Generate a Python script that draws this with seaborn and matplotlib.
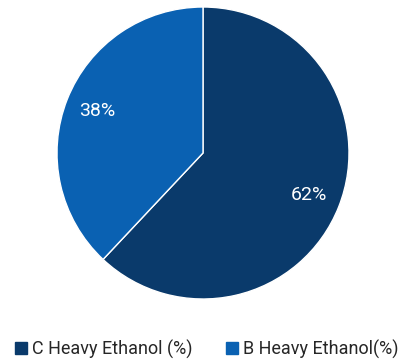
import matplotlib
matplotlib.use("Agg")
import matplotlib.pyplot as plt
import seaborn as sns
from matplotlib.lines import Line2D

sns.set_style("white")
plt.rcParams['font.family'] = ['Roboto', 'DejaVu Sans']

categories = ["C Heavy Ethanol (%)", "B Heavy Ethanol(%)"]
shares = [62, 38]
colors = ["#0a3a6b", "#0a61b2"]

fig = plt.figure(figsize=(4.04, 3.6), dpi=100)
W, H = 404, 360
cx, cy, r = 203, 153, 146
ax = fig.add_axes([(cx - r) / W, (H - cy - r) / H, 2 * r / W, 2 * r / H])

wedges, texts, autotexts = ax.pie(
    shares, colors=colors, startangle=90, counterclock=False,
    autopct=lambda p: f"{p:.0f}%", pctdistance=0.78,
    wedgeprops=dict(edgecolor="white", linewidth=1.0),
    textprops=dict(color="white", fontsize=14),
)
ax.set_xlim(-1, 1)
ax.set_ylim(-1, 1)
ax.set_aspect("equal")
ax.axis("off")

handles = [Line2D([0], [0], marker="s", linestyle="none", markersize=8.6,
                  markerfacecolor=c, markeredgecolor=c) for c in colors]
fig.legend(handles, categories, loc="center left",
           bbox_to_anchor=(14 / W, 1 - 349 / H),
           ncol=2, frameon=False, fontsize=13, handlelength=0.8,
           handletextpad=0.2, columnspacing=1.8, borderpad=0,
           borderaxespad=0)

fig.savefig("out.png", dpi=100)
